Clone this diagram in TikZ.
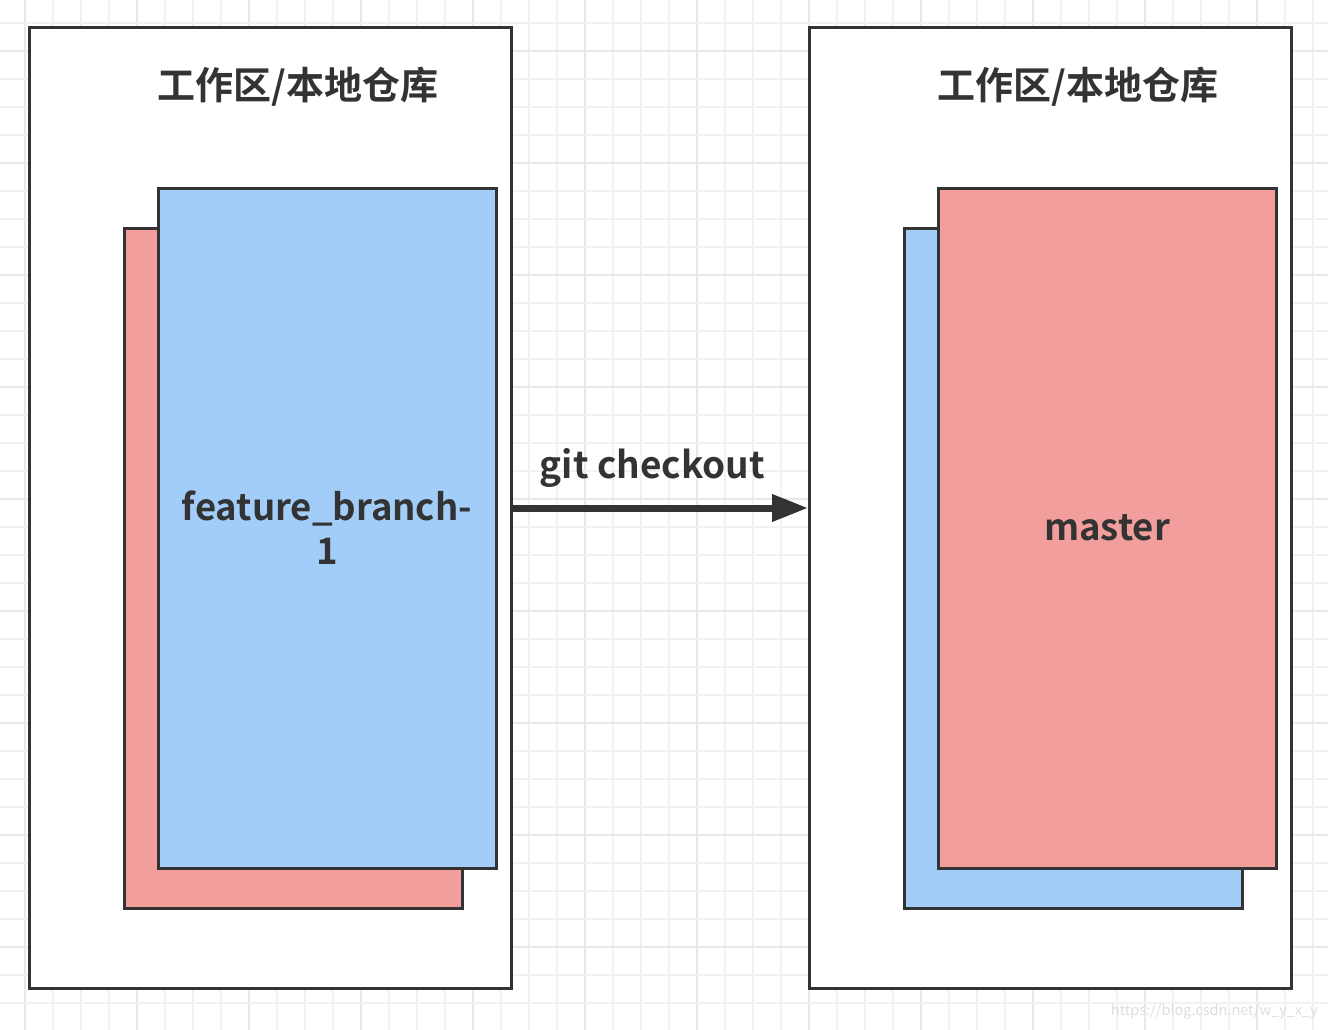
\documentclass[tikz,border=0pt]{standalone}
\usepackage{fontspec}
\setmainfont{Noto Sans CJK SC}[BoldFont={Noto Sans CJK SC Bold}]
\usetikzlibrary{arrows.meta}
\definecolor{ink}{HTML}{333333}
\definecolor{pinkfill}{HTML}{F19E9C}
\definecolor{bluefill}{HTML}{A3CDF9}
\definecolor{gridminor}{HTML}{F2F2F2}
\definecolor{gridmajor}{HTML}{E8E8E8}
\tikzset{
	area/.style={draw=ink, line width=3pt, fill=white, inner sep=0pt, minimum width=482pt, minimum height=960pt},
	sheet/.style={draw=ink, line width=3pt, inner sep=0pt, minimum width=338pt, minimum height=680pt, font=\fontsize{36.5}{44}\selectfont\bfseries, text=ink, align=center},
	title/.style={font=\fontsize{38}{44}\selectfont\bfseries, text=ink, inner sep=0pt}
}

\begin{document}
\begin{tikzpicture}[x=1pt, y=-1pt]
			%%%%% START %%%%%
			\useasboundingbox (0, 0) rectangle (1328, 1030);
			\fill[white] (0, 0) rectangle (1328, 1030);
			
			% grid
			\foreach \k in {0,...,46} {
				\pgfmathsetmacro{\gx}{25+28*\k}
				\pgfmathtruncatemacro{\r}{mod(\k,4)}
				\ifnum\r=0
					\draw[line width=1.5pt, color=gridmajor] (\gx, 0) -- (\gx, 1030);
				\else
					\draw[line width=1.5pt, color=gridminor] (\gx, 0) -- (\gx, 1030);
				\fi
			}
			\foreach \k in {0,...,36} {
				\pgfmathsetmacro{\gy}{23+28*\k}
				\pgfmathtruncatemacro{\r}{mod(\k,4)}
				\ifnum\r=1
					\draw[line width=1.5pt, color=gridmajor] (0, \gy) -- (1328, \gy);
				\else
					\draw[line width=1.5pt, color=gridminor] (0, \gy) -- (1328, \gy);
				\fi
			}
			
			% left work area
			\node[area] (leftarea) at (270, 508) {};
			\node[title] (lefttitle) at (298, 87) {工作区/本地仓库};
			\node[sheet, fill=pinkfill] (leftback) at (293, 568) {};
			\node[sheet, fill=bluefill] (feature) at (327, 528) {feature\_branch-\\1};
			
			% right work area
			\node[area] (rightarea) at (1050.5, 508) {};
			\node[title] (righttitle) at (1078, 87) {工作区/本地仓库};
			\node[sheet, fill=bluefill] (rightback) at (1073, 568) {};
			\node[sheet, fill=pinkfill] (master) at (1107, 528) {master};
			
			% checkout
			\draw[line width=7pt, color=ink, -{Triangle[length=36pt, width=26pt]}] (leftarea.east) -- node[above=17pt, xshift=-8pt, font=\fontsize{37}{44}\selectfont\bfseries, text=ink, inner sep=0pt] (gitlabel) {git checkout} (rightarea.west);
			
			% watermark
			\node[font=\fontsize{14.5}{17}\selectfont, text=black!13, anchor=east, inner sep=0pt] (mark) at (1318, 1012) {https://blog.csdn.net/w\_y\_x\_y};
			%%%%% END %%%%%
\end{tikzpicture}
\end{document}
